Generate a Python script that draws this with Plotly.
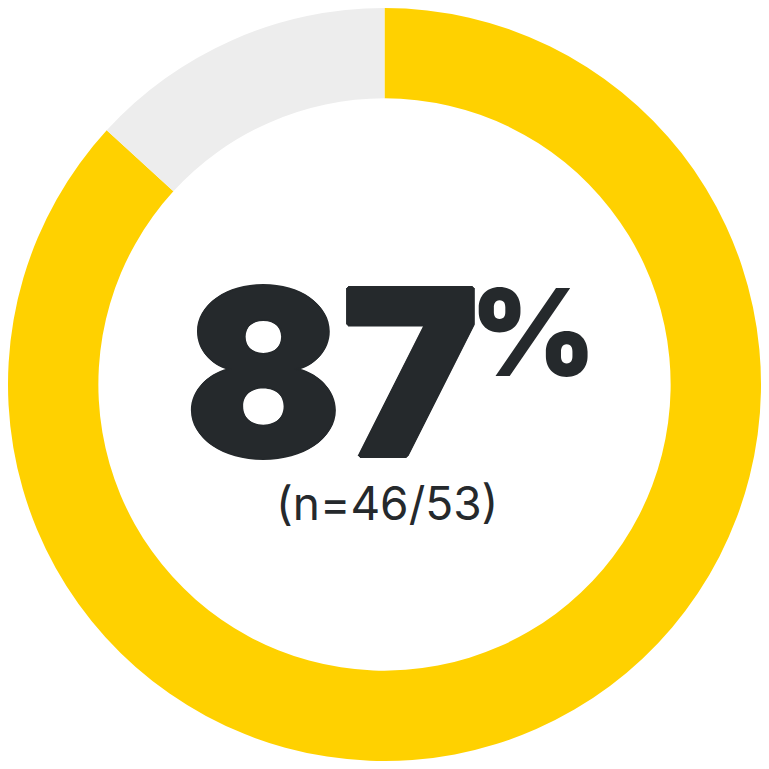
import plotly.graph_objs as go

# share of respondents
labels = ["Yes", "No"]
values = [46, 7]
colors = ["#FFD100", "#EDEDED"]

headline = "87"
headline_unit = "%"
subtitle = "(n=46/53)"

TEXT_COLOR = "#25292C"
SIZE = 753      # page body has an 8px margin, so the figure sits at 8..761
OFFSET = 8

# thickens the Inter Black glyphs a little
HEAVY = ", ".join(f"{dx}px {dy}px 0 {TEXT_COLOR}"
                  for dx, dy in [(2, 0), (-2, 0), (0, 2), (0, -2), (1, 1), (-1, -1), (1, -1), (-1, 1)])


def px_x(x):
    return (x - OFFSET) / SIZE


def px_y(y):
    return 1 - (y - OFFSET) / SIZE


fig = go.Figure(data=[go.Pie(
    labels=labels,
    values=values,
    hole=0.76,
    sort=False,
    direction="clockwise",
    rotation=0,
    marker=dict(colors=colors, line=dict(width=0)),
    textinfo="none",
    hoverinfo="none",
    showlegend=False,
)])

fig.add_annotation(
    text=headline, x=px_x(332), y=px_y(514), xref="paper", yref="paper",
    xanchor="center", yanchor="bottom", showarrow=False,
    font=dict(family="Inter", size=231, color=TEXT_COLOR, weight=900, shadow=HEAVY),
)
fig.add_annotation(
    text=headline_unit, x=px_x(468), y=px_y(257), xref="paper", yref="paper",
    xanchor="left", yanchor="top", showarrow=False,
    font=dict(family="Inter", size=121, color=TEXT_COLOR, weight=900),
)
fig.add_annotation(
    text=subtitle, x=px_x(387), y=px_y(503), xref="paper", yref="paper",
    xanchor="center", yanchor="middle", showarrow=False,
    font=dict(family="Inter", size=46, color=TEXT_COLOR),
)

fig.update_layout(
    width=SIZE, height=SIZE,
    margin=dict(l=0, r=0, t=0, b=0),
    paper_bgcolor="white",
    plot_bgcolor="white",
)

fig.write_html("out.html")
